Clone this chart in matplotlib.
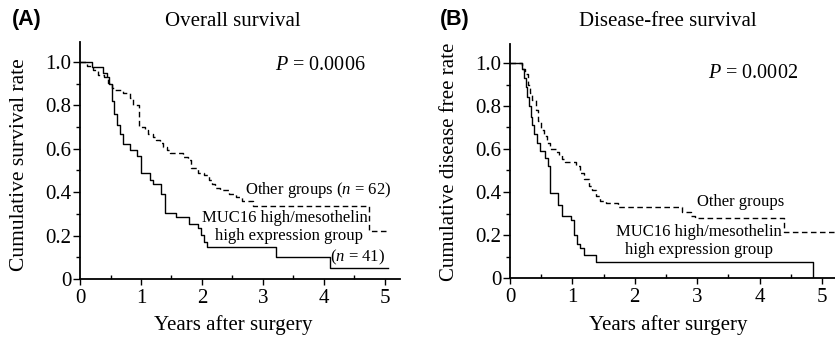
import matplotlib
matplotlib.use("Agg")
import matplotlib.pyplot as plt
from matplotlib.ticker import MultipleLocator

plt.rcParams['font.family'] = ['Liberation Serif', 'DejaVu Serif']
plt.rcParams['mathtext.fontset'] = 'custom'
plt.rcParams['mathtext.rm'] = 'Liberation Serif'
plt.rcParams['mathtext.it'] = 'Liberation Serif:italic'

# ---- Panel A: Overall survival ----
a_high_t = [0, 0.19, 0.38, 0.44, 0.48, 0.52, 0.56, 0.60, 0.65, 0.70, 0.82, 0.94, 1.00,
            1.14, 1.20, 1.33, 1.40, 1.57, 1.79, 1.93, 1.98, 2.03, 2.09, 3.21, 4.10, 5.05]
a_high_s = [1.0, 0.976, 0.95, 0.93, 0.90, 0.82, 0.76, 0.71, 0.67, 0.62, 0.594, 0.567, 0.487,
            0.456, 0.44, 0.39, 0.306, 0.284, 0.253, 0.234, 0.203, 0.172, 0.149, 0.10, 0.05, 0.05]

a_other_t = [0, 0.11, 0.22, 0.30, 0.40, 0.46, 0.52, 0.55, 0.71, 0.82, 0.87, 0.97, 1.06, 1.12,
             1.20, 1.25, 1.31, 1.36, 1.42, 1.48, 1.69, 1.77, 1.82, 1.93, 2.04, 2.12, 2.17,
             2.22, 2.30, 2.45, 2.56, 2.65, 2.84, 4.73, 5.03]
a_other_s = [1.0, 0.98, 0.965, 0.94, 0.93, 0.905, 0.88, 0.871, 0.856, 0.833, 0.80, 0.70, 0.685,
             0.67, 0.655, 0.64, 0.625, 0.61, 0.594, 0.579, 0.563, 0.548, 0.51, 0.49, 0.48,
             0.456, 0.44, 0.418, 0.41, 0.39, 0.38, 0.36, 0.338, 0.222, 0.222]

# ---- Panel B: Disease-free survival ----
b_high_t = [0, 0.19, 0.22, 0.25, 0.28, 0.30, 0.33, 0.35, 0.39, 0.43, 0.48, 0.56, 0.61, 0.64,
            0.77, 0.83, 0.97, 1.03, 1.07, 1.12, 1.18, 1.38, 4.86, 4.86]
b_high_s = [1.0, 0.97, 0.93, 0.89, 0.84, 0.80, 0.75, 0.71, 0.67, 0.63, 0.59, 0.56, 0.52, 0.394,
            0.34, 0.29, 0.27, 0.20, 0.16, 0.14, 0.107, 0.076, 0.0, 0.0]

b_other_t = [0, 0.20, 0.24, 0.29, 0.32, 0.36, 0.41, 0.45, 0.50, 0.55, 0.60, 0.64, 0.74, 0.78,
             0.83, 0.88, 1.05, 1.12, 1.18, 1.26, 1.32, 1.38, 1.45, 1.54, 1.73, 2.75, 2.90,
             2.96, 4.39, 5.25]
b_other_s = [1.0, 0.97, 0.95, 0.90, 0.86, 0.83, 0.78, 0.73, 0.69, 0.66, 0.63, 0.60, 0.585, 0.57,
             0.555, 0.54, 0.52, 0.49, 0.46, 0.43, 0.41, 0.38, 0.36, 0.35, 0.33, 0.307, 0.29,
             0.28, 0.214, 0.214]

x_ticks = [0, 1, 2, 3, 4, 5]
y_ticks = [0, 0.2, 0.4, 0.6, 0.8, 1.0]
y_ticklabels = ['0', '0.2', '0.4', '0.6', '0.8', '1.0']

W, H = 835, 338
fig = plt.figure(figsize=(W / 100, H / 100), dpi=100)

def px_axes(left, right, top, bottom):
    return fig.add_axes([left / W, 1 - bottom / H, (right - left) / W, (bottom - top) / H])

axA = px_axes(80, 80 + 5.25 * 61, 279 - 1.09 * 217, 279)
axB = px_axes(510, 510 + 5.25 * 62.4, 278 - 1.09 * 215, 278)

def style(ax):
    ax.set_xlim(0, 5.25)
    ax.set_ylim(0, 1.09)
    for s in ['top', 'right']:
        ax.spines[s].set_visible(False)
    for s in ['left', 'bottom']:
        ax.spines[s].set_linewidth(1.3)
    ax.set_xticks(x_ticks)
    ax.set_yticks(y_ticks)
    ax.set_yticklabels(y_ticklabels)
    ax.xaxis.set_minor_locator(MultipleLocator(0.5))
    ax.yaxis.set_minor_locator(MultipleLocator(0.1))
    ax.tick_params(axis='x', which='major', direction='out', length=4, width=1, labelsize=15, pad=3)
    ax.tick_params(axis='x', which='minor', direction='in', length=3, width=1)
    ax.tick_params(axis='y', which='major', direction='out', length=5, width=1, labelsize=15, pad=1)
    ax.tick_params(axis='y', which='minor', direction='out', length=3, width=1)
    ax.patch.set_alpha(0)

style(axA)
style(axB)

lw = 1.0
dash = (0, (4, 2.5))
axA.step(a_high_t, a_high_s, where='post', color='black', lw=lw)
axA.step(a_other_t, a_other_s, where='post', color='black', lw=lw, linestyle=dash)
axB.step(b_high_t, b_high_s, where='post', color='black', lw=lw)
axB.step(b_other_t, b_other_s, where='post', color='black', lw=lw, linestyle=dash)

# annotations panel A
axA.text(3.2, 0.986, '$P$ = 0.0006', fontsize=14.5, ha='left', va='center')
axA.text(2.70, 0.41, 'Other groups ($n$ = 62)', fontsize=12, ha='left', va='center')
axA.text(4.72, 0.28, 'MUC16 high/mesothelin', fontsize=12, ha='right', va='center')
axA.text(4.64, 0.20, 'high expression group', fontsize=12, ha='right', va='center')
axA.text(4.10, 0.10, '($n$ = 41)', fontsize=12, ha='left', va='center')

# annotations panel B
axB.text(3.17, 0.953, '$P$ = 0.0002', fontsize=14.5, ha='left', va='center')
axB.text(3.70, 0.353, 'Other groups', fontsize=12, ha='center', va='center')
axB.text(3.03, 0.214, 'MUC16 high/mesothelin', fontsize=12, ha='center', va='center')
axB.text(3.03, 0.13, 'high expression group', fontsize=12, ha='center', va='center')

# titles, panel letters, axis labels
fig.text(12 / W, 1 - 20 / H, '(A)', fontsize=15.5, fontweight='bold',
         family=['Liberation Sans', 'DejaVu Sans'], ha='left', va='center')
fig.text(440 / W, 1 - 20 / H, '(B)', fontsize=15.5, fontweight='bold',
         family=['Liberation Sans', 'DejaVu Sans'], ha='left', va='center')
fig.text(233 / W, 1 - 22 / H, 'Overall survival', fontsize=15, ha='center', va='center')
fig.text(668 / W, 1 - 22 / H, 'Disease-free survival', fontsize=15, ha='center', va='center')
fig.text(20 / W, 1 - 165 / H, 'Cumulative survival rate', fontsize=15.5, rotation=90,
         ha='center', va='center')
fig.text(450 / W, 1 - 162 / H, 'Cumulative disease free rate', fontsize=15, rotation=90,
         ha='center', va='center')
fig.text(233 / W, 1 - 325 / H, 'Years after surgery', fontsize=15, ha='center', va='center')
fig.text(668 / W, 1 - 325 / H, 'Years after surgery', fontsize=15, ha='center', va='center')

fig.savefig('out.png', dpi=100)
